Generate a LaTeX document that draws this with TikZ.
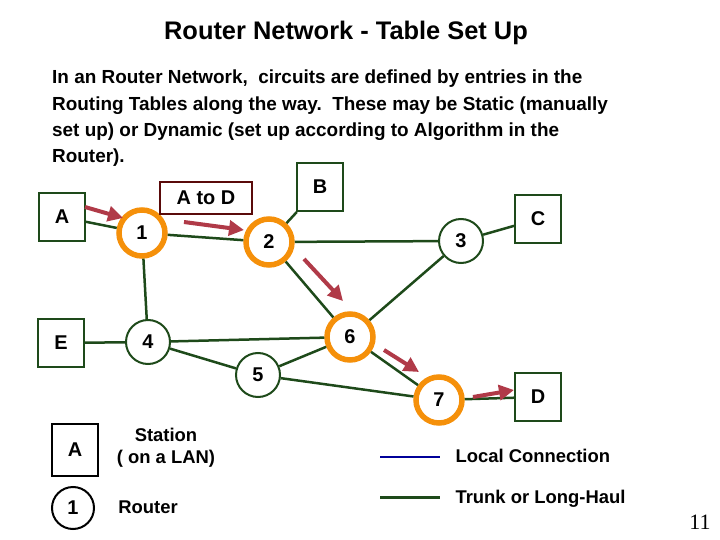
\documentclass[tikz,border=0pt]{standalone}
\usepackage{fontspec}
\setmainfont{Liberation Sans}
\usetikzlibrary{arrows.meta}
\definecolor{dg}{HTML}{1E4A1A}
\definecolor{rarr}{HTML}{B03A48}
\definecolor{org}{HTML}{F5900A}
\definecolor{brn}{HTML}{5A0A0A}
\begin{document}
\begin{tikzpicture}[x=1bp,y=-1bp,
 station/.style={draw=dg,line width=2bp,minimum width=46bp,minimum height=48bp,font=\fontsize{20}{20}\selectfont\bfseries,inner sep=0},
 router/.style={circle,draw=dg,line width=2bp,minimum size=44bp,font=\fontsize{20}{20}\selectfont\bfseries,inner sep=0},
 hot/.style={circle,draw=org,line width=5.5bp,minimum size=46bp,font=\fontsize{20}{20}\selectfont\bfseries,inner sep=0},
 link/.style={draw=dg,line width=2.5bp},
 flow/.style={draw=rarr,line width=4bp,-{Triangle[length=15bp,width=15bp]}}]
\useasboundingbox (0,0) rectangle (720,540);
\node[font=\fontsize{25.5}{26}\selectfont\bfseries] (t) at (346,33) {Router Network - Table Set Up};
\node[font=\fontsize{19}{26.3}\selectfont\bfseries,anchor=north west,align=left,inner sep=0] (txt) at (52,70) {In an Router Network,\ \ circuits are defined by entries in the\\Routing Tables along the way.\ \ These may be Static (manually\\set up) or Dynamic (set up according to Algorithm in the\\Router).};
\node[station] (A) at (62,217) {A};
\node[station] (B) at (320,187) {B};
\node[station] (C) at (538,219) {C};
\node[station] (D) at (538,397) {D};
\node[station] (E) at (61,343) {E};
\node[hot] (r1) at (142,233) {1};
\node[hot] (r2) at (269,242) {2};
\node[router] (r3) at (461,241) {3};
\node[router] (r4) at (148,342) {4};
\node[router] (r5) at (258,375) {5};
\node[hot] (r6) at (350,337) {6};
\node[hot] (r7) at (439,400) {7};
\node[draw=brn,line width=2.5bp,minimum width=92bp,minimum height=32bp,font=\fontsize{20}{20}\selectfont\bfseries] (ad) at (206,198) {A to D};
\draw[link] (A) -- (r1); \draw[link] (r1) -- (r2); \draw[link] (r2) -- (B);
\draw[link] (r2) -- (r3); \draw[link] (r3) -- (C); \draw[link] (r3) -- (r6);
\draw[link] (r2) -- (r6); \draw[link] (r1) -- (r4); \draw[link] (E) -- (r4);
\draw[link] (r4) -- (r6); \draw[link] (r4) -- (r5); \draw[link] (r5) -- (r6);
\draw[link] (r5) -- (r7); \draw[link] (r6) -- (r7); \draw[link] (r7) -- (D);
\coordinate (f1a) at (85,207); \coordinate (f1b) at (123,218);
\coordinate (f2a) at (184,222); \coordinate (f2b) at (244,230);
\coordinate (f3a) at (304,259); \coordinate (f3b) at (343,301);
\coordinate (f4a) at (384,350); \coordinate (f4b) at (419,372);
\coordinate (f5a) at (473,397); \coordinate (f5b) at (514,390);
\draw[flow] (f1a) -- (f1b); \draw[flow] (f2a) -- (f2b); \draw[flow] (f3a) -- (f3b);
\draw[flow] (f4a) -- (f4b); \draw[flow] (f5a) -- (f5b);
% legend
\node[draw=black,line width=2bp,minimum width=46bp,minimum height=52bp,font=\fontsize{20}{20}\selectfont\bfseries,inner sep=0] (lA) at (75,450) {A};
\node[circle,draw=black,line width=2bp,minimum size=42bp,font=\fontsize{20}{20}\selectfont\bfseries,inner sep=0] (l1) at (73,508) {1};
\node[font=\fontsize{18.5}{22}\selectfont\bfseries,align=center] (ls) at (166,448) {Station\\( on a LAN)};
\node[font=\fontsize{18.5}{19}\selectfont\bfseries] (lr) at (148,507) {Router};
\coordinate (b1) at (380,457); \coordinate (b2) at (440,457);
\coordinate (g1) at (380,497); \coordinate (g2) at (440,497);
\draw[draw=blue!60!black,line width=1.5bp] (b1) -- (b2);
\draw[draw=dg,line width=3bp] (g1) -- (g2);
\node[font=\fontsize{18.5}{19}\selectfont\bfseries,anchor=west] (lc) at (452,456) {Local Connection};
\node[font=\fontsize{18.5}{19}\selectfont\bfseries,anchor=west] (lt) at (452,499) {Trunk or Long-Haul};
\node[font=\fontsize{22}{22}\selectfont,anchor=east] (pg) at (714,522) {\fontspec{Liberation Serif}11};
\end{tikzpicture}
\end{document}
